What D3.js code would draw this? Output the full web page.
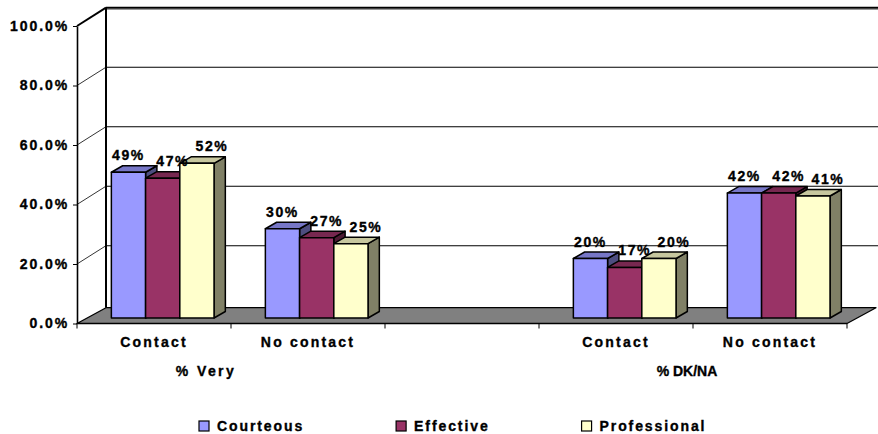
<!DOCTYPE html>
<html>
<head>
<meta charset="utf-8">
<script src="https://cdn.jsdelivr.net/npm/d3@7"></script>
<style>
  html, body { margin: 0; padding: 0; background: #fff; }
  svg { display: block; }
  text { font-family: "Liberation Sans", Arial, sans-serif; font-weight: bold; fill: #000; stroke: #000; stroke-width: 0.35px; }
</style>
</head>
<body>
<svg id="chart" width="878" height="434"></svg>
<script>
// Category slots along the floor (the middle slot is an empty spacer)
const categories = ["Contact", "No contact", "", "Contact", "No contact"];
const groupLabels = ["% Very", "% DK/NA"];
const groupSlots = [[0, 1], [3, 4]];

// Series (percent)
const seriesNames = ["Courteous", "Effective", "Professional"];
const courteous    = [49, 30, null, 20, 42];
const effective    = [47, 27, null, 17, 42];
const professional = [52, 25, null, 20, 41];
const seriesValues = [courteous, effective, professional];

const yTicks = [0, 20, 40, 60, 80, 100];

// ---- styling / layout ----
const colors = ["#9999FF", "#993366", "#FFFFCC"];
const shade = (c, k) => { const r = d3.rgb(c); return d3.rgb(r.r * k, r.g * k, r.b * k).formatHex(); };

const svg = d3.select("#chart");
const W = 878, H = 434;

const x = d3.scaleBand().domain(d3.range(categories.length)).range([77, 847]).paddingInner(0).paddingOuter(0);
const xs = d3.scaleBand().domain(d3.range(seriesNames.length)).range([0, x.bandwidth()]).paddingInner(0).paddingOuter(0.75);
const y = d3.scaleLinear().domain([0, 100]).range([323.5, 26]);

// oblique projection offsets
const wall = { dx: 29, dy: -18.3 };    // front plane -> back wall
const floorD = { dx: 29, dy: -15.8 };  // floor depth
const barOff = { dx: 8.7, dy: -5.5 };  // front face of the bars inside the floor
const barD = { dx: 11.3, dy: -6.5 };   // bar depth

const x0 = x.range()[0], x1 = x.range()[1];
const yBottom = y(0), yTop = y(100);

// back wall
const backLeft = x0 + wall.dx;
svg.append("rect").attr("x", backLeft).attr("y", yTop + wall.dy)
  .attr("width", W - backLeft + 2).attr("height", (yBottom + floorD.dy) - (yTop + wall.dy))
  .attr("fill", "#fff");

// gridlines on the back wall and their diagonals on the side wall
yTicks.filter(t => t > 0).forEach(t => {
  const yy = y(t) + wall.dy;
  svg.append("line").attr("x1", backLeft).attr("x2", W + 2).attr("y1", yy).attr("y2", yy)
    .attr("stroke", "#000").attr("stroke-width", t === 100 ? 2 : 1.1);
  svg.append("line").attr("x1", x0).attr("y1", y(t)).attr("x2", backLeft).attr("y2", yy)
    .attr("stroke", "#000").attr("stroke-width", t === 100 ? 2 : 0.8);
});
// top edge shading of the back wall
svg.append("line").attr("x1", backLeft).attr("x2", W + 2)
  .attr("y1", yTop + wall.dy + 1.8).attr("y2", yTop + wall.dy + 1.8)
  .attr("stroke", "#999").attr("stroke-width", 1.2);

// back wall left edge
svg.append("line").attr("x1", backLeft).attr("x2", backLeft)
  .attr("y1", yTop + wall.dy).attr("y2", yBottom + floorD.dy)
  .attr("stroke", "#000").attr("stroke-width", 2);

// floor
const floorPts = [[x0, yBottom], [x1, yBottom], [x1 + floorD.dx, yBottom + floorD.dy], [x0 + floorD.dx, yBottom + floorD.dy]];
svg.append("polygon").attr("points", floorPts.map(p => p.join(",")).join(" "))
  .attr("fill", "#808080").attr("stroke", "#000").attr("stroke-width", 1.3).attr("stroke-linejoin", "round");

// front vertical axis
const yAxis = d3.axisLeft(y).tickValues(yTicks).tickFormat(d => d.toFixed(1) + "%")
  .tickSize(4).tickSizeOuter(0).tickPadding(4);
const gy = svg.append("g").attr("transform", `translate(${x0},0)`).call(yAxis);
gy.select(".domain").attr("stroke", "#000").attr("stroke-width", 1.6);
gy.selectAll(".tick line").attr("stroke", "#000").attr("stroke-width", 1);
gy.selectAll(".tick text").attr("font-size", 14).style("letter-spacing", "1.9px")
  .attr("font-family", "Liberation Sans, Arial, sans-serif").attr("font-weight", "bold");

// category ticks under the floor
d3.range(categories.length + 1).forEach(i => {
  const xx = i < categories.length ? x(i) : x1;
  svg.append("line").attr("x1", xx).attr("x2", xx).attr("y1", yBottom).attr("y2", yBottom + 5)
    .attr("stroke", "#000").attr("stroke-width", 1);
});

// bars, back-to-front within each slot
const bars = svg.append("g");
categories.forEach((cat, i) => {
  seriesValues.forEach((vals, s) => {
    const v = vals[i];
    if (v == null) return;
    const L = x(i) + xs(s) + barOff.dx;
    const R = L + xs.bandwidth();
    const B = yBottom + barOff.dy;
    const T = y(v) + barOff.dy;
    const g = bars.append("g").attr("stroke", "#000").attr("stroke-width", 1.5).attr("stroke-linejoin", "round");
    // side face
    g.append("polygon").attr("points", [[R, T], [R + barD.dx, T + barD.dy], [R + barD.dx, B + barD.dy], [R, B]].map(p => p.join(",")).join(" "))
      .attr("fill", shade(colors[s], 0.5));
    // top face
    g.append("polygon").attr("points", [[L, T], [L + barD.dx, T + barD.dy], [R + barD.dx, T + barD.dy], [R, T]].map(p => p.join(",")).join(" "))
      .attr("fill", shade(colors[s], 0.78));
    // front face
    g.append("rect").attr("x", L).attr("y", T).attr("width", R - L).attr("height", B - T)
      .attr("fill", colors[s]);
  });
});

// value labels
const labelNudge = [0, 10, 15];
const labels = svg.append("g");
categories.forEach((cat, i) => {
  seriesValues.forEach((vals, s) => {
    const v = vals[i];
    if (v == null) return;
    const cx = x(i) + xs(s) + barOff.dx + xs.bandwidth() / 2 + labelNudge[s];
    labels.append("text").attr("x", cx).attr("y", y(v) + barOff.dy - 12)
      .attr("text-anchor", "middle").attr("font-size", 14).style("letter-spacing", "1.6px")
      .text(v + "%");
  });
});

// category labels
categories.forEach((cat, i) => {
  if (!cat) return;
  svg.append("text").attr("x", x(i) + x.bandwidth() / 2).attr("y", 346.5)
    .attr("text-anchor", "middle").attr("font-size", 14).style("letter-spacing", "2.2px")
    .text(cat);
});

// group labels
const groupNudge = [-25, -6];
const groupSpacing = ["2.4px", "0px"];
groupLabels.forEach((lab, k) => {
  const [a, b] = groupSlots[k];
  const cx = (x(a) + x(b) + x.bandwidth()) / 2 + groupNudge[k];
  svg.append("text").attr("x", cx).attr("y", 376)
    .attr("text-anchor", "middle").attr("font-size", 14).style("letter-spacing", groupSpacing[k])
    .text(lab);
});

// legend
const legend = svg.append("g");
let lx = 199;
seriesNames.forEach((name, s) => {
  legend.append("rect").attr("x", lx).attr("y", 421).attr("width", 10).attr("height", 10)
    .attr("fill", colors[s]).attr("stroke", "#000").attr("stroke-width", 1.2);
  const t = legend.append("text").attr("x", lx + 18).attr("y", 430.5)
    .attr("font-size", 14).style("letter-spacing", "1.9px").text(name);
  const w = t.node().getComputedTextLength();
  lx = lx + 18 + w + 92;
});
</script>
</body>
</html>
